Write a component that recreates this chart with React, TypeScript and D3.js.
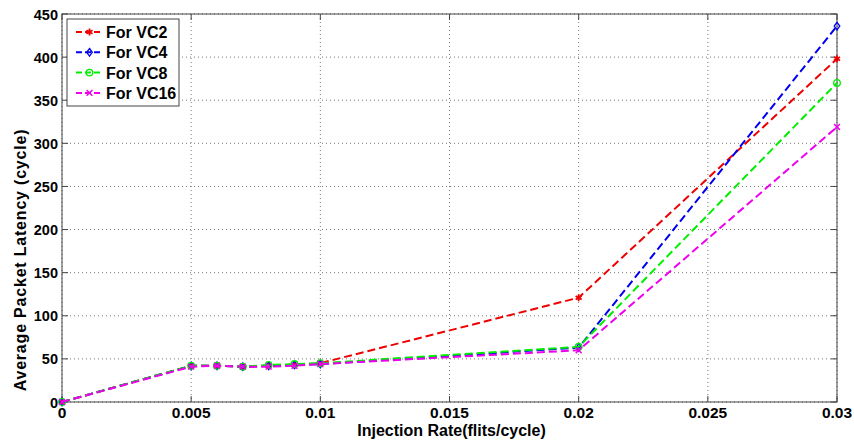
import { useEffect, useRef } from "react";
import * as d3 from "d3";

const rates = [0, 0.005, 0.006, 0.007, 0.008, 0.009, 0.01, 0.02, 0.03];
const vc2 = [0, 42, 42, 41, 42, 43, 45, 121, 398];
const vc4 = [0, 42, 42, 41, 42, 43, 44, 63, 436];
const vc8 = [0, 42, 42, 41, 43, 44, 45, 64, 370];
const vc16 = [0, 41, 42, 41, 41, 42, 44, 60, 319];
const xTicks = [0, 0.005, 0.01, 0.015, 0.02, 0.025, 0.03];
const yTicks = [0, 50, 100, 150, 200, 250, 300, 350, 400, 450];

const series = [
  { name: "For VC2", values: vc2, color: "#ee0000", marker: "star" },
  { name: "For VC4", values: vc4, color: "#0000ee", marker: "diamond" },
  { name: "For VC8", values: vc8, color: "#00ee00", marker: "circle" },
  { name: "For VC16", values: vc16, color: "#ee00ee", marker: "cross" },
];

const W = 854, H = 445;
const M = { top: 14, right: 17, bottom: 43, left: 62 };
const BOLD = "Arial, 'Liberation Sans', sans-serif";
const NARROW = "'Liberation Sans Narrow', 'Arial Narrow', Arial, sans-serif";

function drawMarker(g: any, type: string, x: number, y: number, color: string) {
  if (type === "circle") {
    g.append("circle").attr("cx", x).attr("cy", y).attr("r", 3.3)
      .attr("fill", "none").attr("stroke", color).attr("stroke-width", 1.3);
  } else if (type === "diamond") {
    g.append("path").attr("d", `M${x},${y - 3.8}L${x + 2.8},${y}L${x},${y + 3.8}L${x - 2.8},${y}Z`)
      .attr("fill", "none").attr("stroke", color).attr("stroke-width", 1.3);
  } else if (type === "star") {
    g.append("path").attr("d", d3.symbol(d3.symbolAsterisk, 34)() as string)
      .attr("transform", `translate(${x},${y})`)
      .attr("fill", "none").attr("stroke", color).attr("stroke-width", 1.8);
  } else {
    g.append("path").attr("d", d3.symbol(d3.symbolTimes, 24)() as string)
      .attr("transform", `translate(${x},${y})`)
      .attr("fill", "none").attr("stroke", color).attr("stroke-width", 1.5);
  }
}

export default function App() {
  const ref = useRef<SVGSVGElement>(null);

  useEffect(() => {
    const el = ref.current;
    if (!el) return;
    d3.select(el).selectAll("*").remove();
    const iW = W - M.left - M.right;
    const iH = H - M.top - M.bottom;

    const svg = d3.select(el);
    svg.append("rect").attr("width", W).attr("height", H).attr("fill", "#fff");
    const g = svg.append("g").attr("transform", `translate(${M.left},${M.top})`);

    const x = d3.scaleLinear().domain([0, 0.03]).range([0, iW]);
    const y = d3.scaleLinear().domain([0, 450]).range([iH, 0]);

    // Grid lines
    xTicks.forEach(t => {
      g.append("line").attr("x1", x(t)).attr("x2", x(t)).attr("y1", 0).attr("y2", iH)
        .attr("stroke", "#777").attr("stroke-width", 1).attr("stroke-dasharray", "1 3");
    });
    yTicks.forEach(t => {
      g.append("line").attr("x1", 0).attr("x2", iW).attr("y1", y(t)).attr("y2", y(t))
        .attr("stroke", "#777").attr("stroke-width", 1).attr("stroke-dasharray", "1 3");
    });

    // Tick marks inside the box
    xTicks.forEach(t => {
      g.append("line").attr("x1", x(t)).attr("x2", x(t)).attr("y1", iH).attr("y2", iH - 6).attr("stroke", "#444");
      g.append("line").attr("x1", x(t)).attr("x2", x(t)).attr("y1", 0).attr("y2", 6).attr("stroke", "#444");
    });
    yTicks.forEach(t => {
      g.append("line").attr("x1", 0).attr("x2", 6).attr("y1", y(t)).attr("y2", y(t)).attr("stroke", "#444");
      g.append("line").attr("x1", iW).attr("x2", iW - 6).attr("y1", y(t)).attr("y2", y(t)).attr("stroke", "#444");
    });

    g.append("rect").attr("width", iW).attr("height", iH)
      .attr("fill", "none").attr("stroke", "#444").attr("stroke-width", 1);

    // Tick labels
    xTicks.forEach(t => {
      g.append("text").attr("x", x(t)).attr("y", iH + 16).attr("text-anchor", "middle")
        .attr("font-family", NARROW).attr("font-weight", "bold").attr("font-size", 15.5)
        .text(d3.format("")(t));
    });
    yTicks.forEach(t => {
      g.append("text").attr("x", -4).attr("y", y(t) + 5.5).attr("text-anchor", "end")
        .attr("font-family", BOLD).attr("font-weight", "bold").attr("font-size", 14.5)
        .text(t);
    });

    // Axis titles
    g.append("text").attr("x", iW / 2 + 2).attr("y", iH + 34).attr("text-anchor", "middle")
      .attr("font-family", NARROW).attr("font-weight", "bold").attr("font-size", 16)
      .text("Injection Rate(flits/cycle)");
    g.append("text").attr("transform", `translate(${-36},${iH / 2 + 52}) rotate(-90)`)
      .attr("text-anchor", "middle")
      .attr("font-family", BOLD).attr("font-weight", "bold").attr("font-size", 16)
      .attr("letter-spacing", 0.8)
      .text("Average Packet Latency (cycle)");

    // Lines and markers
    const line = d3.line<number>().x((_, i) => x(rates[i])).y(d => y(d));
    series.forEach(s => {
      g.append("path").datum(s.values).attr("d", line)
        .attr("fill", "none").attr("stroke", s.color).attr("stroke-width", 2)
        .attr("stroke-dasharray", "8 4");
      s.values.forEach((v, i) => drawMarker(g, s.marker, x(rates[i]), y(v), s.color));
    });

    // Legend
    const lg = svg.append("g").attr("transform", "translate(67,19)");
    lg.append("rect").attr("width", 112).attr("height", 87)
      .attr("fill", "#fff").attr("stroke", "#444").attr("stroke-width", 1);
    series.forEach((s, i) => {
      const yy = 13 + i * 20.3;
      lg.append("line").attr("x1", 9).attr("x2", 36).attr("y1", yy).attr("y2", yy)
        .attr("stroke", s.color).attr("stroke-width", 2).attr("stroke-dasharray", "6 3");
      drawMarker(lg, s.marker, 22.5, yy, s.color);
      lg.append("text").attr("x", 39).attr("y", yy + 6)
        .attr("font-family", BOLD).attr("font-weight", "bold").attr("font-size", 16)
        .text(s.name);
    });
  }, []);

  return (
    <svg ref={ref} width={W} height={H}
      style={{ position: "absolute", left: 0, top: 0, display: "block" }} />
  );
}
